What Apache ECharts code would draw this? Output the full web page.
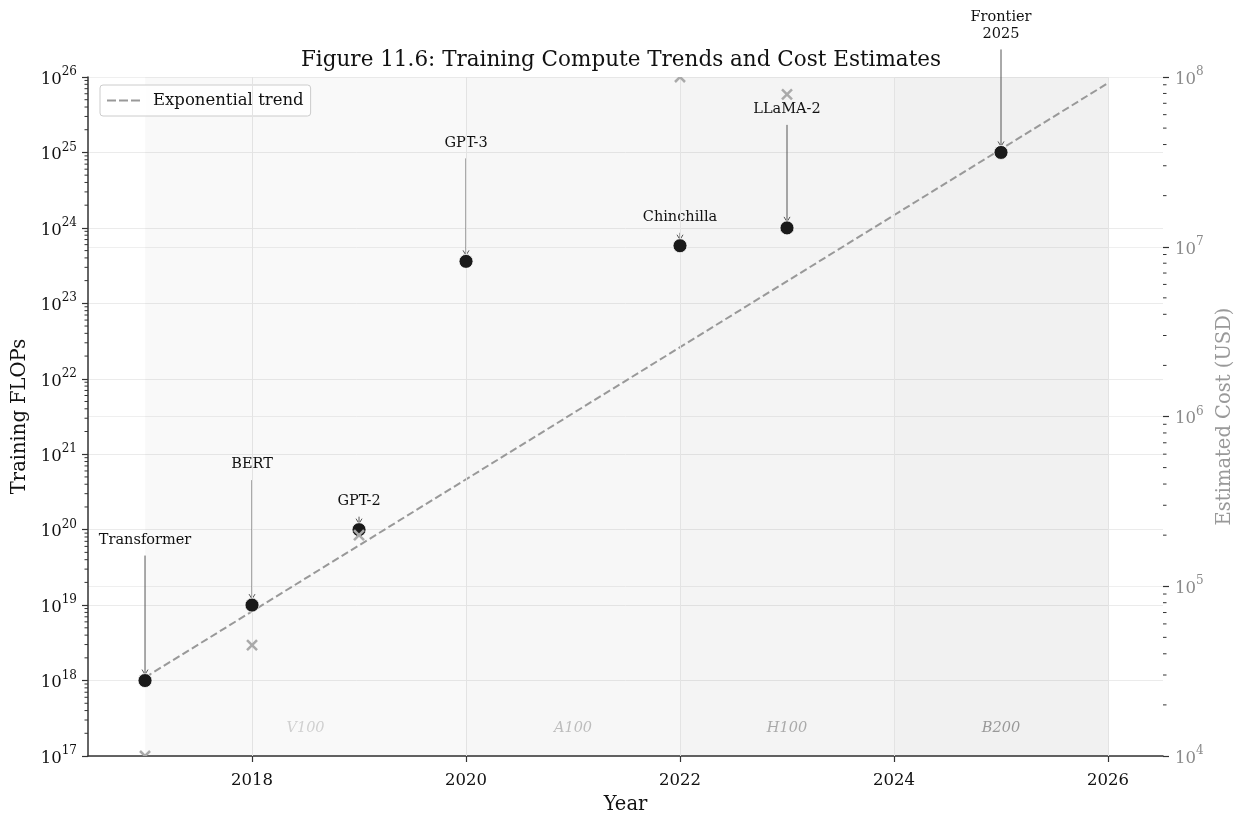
<!DOCTYPE html>
<html><head><meta charset="utf-8">
<script src="https://cdn.jsdelivr.net/npm/echarts@6/dist/echarts.min.js"></script>
<style>html,body{margin:0;padding:0;background:#fff}#chart{width:1242px;height:817px}</style>
</head><body><div id="chart"></div>
<script>
// ---- data ----
const years = [2017, 2018, 2019, 2020, 2022, 2023, 2025];
const modelNames = ['Transformer', 'BERT', 'GPT-2', 'GPT-3', 'Chinchilla', 'LLaMA-2', 'Frontier\n2025'];
const trainingFlops = [1e18, 1e19, 1e20, 3.6e23, 5.8e23, 1e24, 1e25];
const costYears = [2017, 2018, 2019, 2022, 2023];
const costUsd = [1e4, 4.5e4, 2e5, 1e8, 7.9e7];
const trendYears = [2017, 2026];
const trendFlops = [1.1e18, 8.3e25];
const hwNames = ['V100', 'A100', 'H100', 'B200'];
const hwStart = [2017, 2020, 2022, 2024];
const hwEnd = [2020, 2022, 2024, 2026];
const xTickYears = [2018, 2020, 2022, 2024, 2026];
const minorMultipliers = [2, 3, 4, 5, 6, 7, 8, 9];

// ---- styles ----
const FONT = 'DejaVu Serif';
const hwFill = ['rgba(0,0,0,0.022)', 'rgba(0,0,0,0.032)', 'rgba(0,0,0,0.045)', 'rgba(0,0,0,0.055)'];
const hwTextColor = ['#d0d0d0', '#bdbdbd', '#aaaaaa', '#999999'];
const annOffsetPx = [140, 140, 28, 118, 28, 118, 118];

const X_MIN = 2016.467, X_MAX = 2026.514;

function supLabel(v) {
  const e = Math.round(Math.log10(v));
  return '{b|10}{s|' + e + '}';
}
const richSup = (color) => ({
  b: { fontFamily: FONT, fontSize: 16.5, color: color, lineHeight: 22, verticalAlign: 'bottom' },
  s: { fontFamily: FONT, fontSize: 12, color: color, lineHeight: 22, verticalAlign: 'top', padding: [0, 0, 8, 0] }
});

function minorValues(lo, hi) {
  const out = [];
  for (let e = lo; e < hi; e++) minorMultipliers.forEach(m => out.push(m * Math.pow(10, e)));
  return out;
}
function minorTickSeries(yAxisIndex, vals, side) {
  return {
    type: 'custom', yAxisIndex: yAxisIndex, silent: true, z: 10, clip: false,
    data: vals.map(v => [X_MIN, v]),
    renderItem: function (params, api) {
      const cs = params.coordSys;
      const y = api.coord([api.value(0), api.value(1)])[1];
      const x0 = side === 'left' ? cs.x : cs.x + cs.width;
      const x1 = side === 'left' ? x0 - 3.5 : x0 + 3.5;
      return { type: 'line', shape: { x1: x0, y1: y, x2: x1, y2: y }, style: { stroke: '#333', lineWidth: 1 } };
    }
  };
}

const chart = echarts.init(document.getElementById('chart'), null, { renderer: 'canvas' });

const option = {
  backgroundColor: '#fff',
  animation: false,
  title: {
    text: 'Figure 11.6: Training Compute Trends and Cost Estimates',
    left: 'center', top: 49, padding: 0,
    textStyle: { fontFamily: FONT, fontSize: 21.5, fontWeight: 'normal', color: '#111' }
  },
  legend: {
    data: [{ name: 'Exponential trend', icon: 'path://M0,0h9v2h-9z M12,0h9v2h-9z M24,0h9v2h-9z' }],
    left: 100, top: 85,
    itemWidth: 33, itemHeight: 2,
    padding: [7, 7, 7, 7],
    borderColor: '#cccccc', borderWidth: 1, borderRadius: 3, backgroundColor: 'rgba(255,255,255,0.85)',
    textStyle: { fontFamily: FONT, fontSize: 16.5, color: '#111', padding: [0, 0, 0, 8] }
  },
  grid: { left: 88, right: 79, top: 77, bottom: 61, containLabel: false, outerBoundsMode: 'none' },
  xAxis: {
    type: 'value', min: X_MIN, max: X_MAX,
    name: 'Year', nameLocation: 'middle', nameGap: 39,
    nameTextStyle: { fontFamily: FONT, fontSize: 19.5, color: '#111' },
    axisLine: { show: true, lineStyle: { color: '#333', width: 1.5 } },
    axisTick: { show: true, length: 6, lineStyle: { color: '#333', width: 1.2 }, customValues: xTickYears },
    axisLabel: { fontFamily: FONT, fontSize: 16.5, color: '#111', margin: 16, customValues: xTickYears, formatter: v => String(v) },
    splitLine: { show: false }
  },
  yAxis: [
    {
      type: 'log', logBase: 10, min: 1e17, max: 1e26, splitNumber: 9,
      name: 'Training FLOPs', nameLocation: 'middle', nameGap: 56,
      nameTextStyle: { fontFamily: FONT, fontSize: 19.5, color: '#111' },
      axisLine: { show: true, lineStyle: { color: '#333', width: 1.5 } },
      axisTick: { show: true, length: 6, lineStyle: { color: '#333', width: 1.2 } },
      axisLabel: { margin: 11, formatter: supLabel, rich: richSup('#111') },
      splitLine: { show: true, lineStyle: { color: '#ebebeb', width: 1 } }
    },
    {
      type: 'log', logBase: 10, min: 1e4, max: 1e8, splitNumber: 4, position: 'right',
      name: 'Estimated Cost (USD)', nameLocation: 'middle', nameGap: 49,
      nameTextStyle: { fontFamily: FONT, fontSize: 19.5, color: '#999' },
      axisLine: { show: false },
      axisTick: { show: true, length: 6, lineStyle: { color: '#333', width: 1.2 } },
      axisLabel: { margin: 12, formatter: supLabel, rich: richSup('#8a8a8a') },
      splitLine: { show: true, lineStyle: { color: '#efefef', width: 1 } }
    }
  ],
  series: [
    {
      name: 'bands', type: 'line', data: [], z: 1, silent: true,
      markArea: {
        silent: true,
        data: hwNames.map((n, i) => [
          { xAxis: hwStart[i], name: n, itemStyle: { color: hwFill[i] },
            label: { show: true, position: 'insideBottom', distance: 20, fontFamily: FONT, fontStyle: 'italic', fontSize: 14.5, color: hwTextColor[i] } },
          { xAxis: hwEnd[i] }
        ])
      },
      markLine: {
        silent: true, symbol: 'none', label: { show: false },
        lineStyle: { color: '#e3e3e3', width: 1, type: 'solid' },
        data: xTickYears.map(y => ({ xAxis: y }))
      }
    },
    {
      name: 'Exponential trend', type: 'line', z: 3,
      data: trendYears.map((y, i) => [y, trendFlops[i]]),
      symbol: 'none', showSymbol: false,
      lineStyle: { color: '#999999', width: 2, type: [7.5, 3.5] },
      itemStyle: { color: '#999999' }
    },
    {
      name: 'annotations', type: 'custom', z: 4, clip: false, silent: true,
      data: years.map((y, i) => [y, trainingFlops[i]]),
      renderItem: function (params, api) {
        const p = api.coord([api.value(0), api.value(1)]);
        const i = params.dataIndex;
        const textBottom = p[1] - annOffsetPx[i] + 8;
        const lineStart = textBottom + 7;
        const tip = p[1] - 6;
        const children = [
          { type: 'text', style: { text: modelNames[i], x: p[0], y: textBottom, align: 'center', verticalAlign: 'bottom',
            fontFamily: FONT, fontSize: 14.5, lineHeight: 17, fill: '#111' } }
        ];
        if (tip > lineStart) {
          children.push({ type: 'line', shape: { x1: p[0], y1: lineStart, x2: p[0], y2: tip }, style: { stroke: '#555', lineWidth: 1 } });
        }
        children.push({ type: 'polyline', shape: { points: [[p[0] - 3, tip - 5], [p[0], tip], [p[0] + 3, tip - 5]] },
          style: { stroke: '#555', lineWidth: 1, fill: null } });
        return { type: 'group', children: children };
      }
    },
    {
      name: 'Training FLOPs', type: 'scatter', z: 5,
      data: years.map((y, i) => [y, trainingFlops[i]]),
      symbol: 'circle', symbolSize: 14,
      itemStyle: { color: '#1a1a1a', borderColor: '#ffffff', borderWidth: 0.8, opacity: 1 }
    },
    {
      name: 'Estimated cost', type: 'custom', yAxisIndex: 1, z: 6, clip: false, silent: true,
      data: costYears.map((y, i) => [y, costUsd[i]]),
      renderItem: function (params, api) {
        const cs = params.coordSys;
        const p = api.coord([api.value(0), api.value(1)]);
        const h = 5;
        const st = { stroke: '#aaaaaa', lineWidth: 2.5 };
        return { type: 'group',
          clipPath: { type: 'rect', shape: { x: cs.x, y: cs.y, width: cs.width, height: cs.height } },
          children: [
            { type: 'line', shape: { x1: p[0] - h, y1: p[1] - h, x2: p[0] + h, y2: p[1] + h }, style: st },
            { type: 'line', shape: { x1: p[0] - h, y1: p[1] + h, x2: p[0] + h, y2: p[1] - h }, style: st }
          ] };
      }
    },
    minorTickSeries(0, minorValues(17, 26), 'left'),
    minorTickSeries(1, minorValues(4, 8), 'right')
  ]
};
chart.setOption(option);
</script>
</body></html>
